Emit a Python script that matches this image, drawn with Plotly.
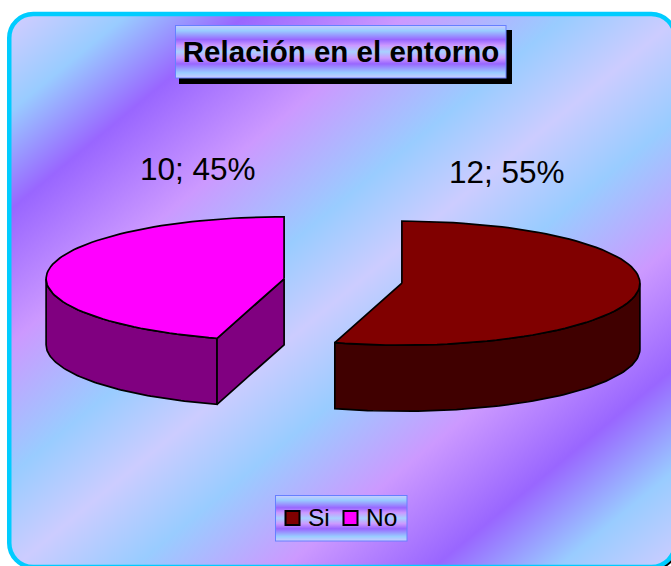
"""Relación en el entorno: exploded 3D-look pie drawn with Scatter traces."""

import base64

import numpy as np
import plotly.graph_objects as go

CATEGORIES = ["Si", "No"]
VALUES = [12, 10]
TOP_COLORS = ["#800000", "#FF00FF"]
WALL_COLORS = ["#400000", "#800080"]
TITLE = "Relación en el entorno"

W, H = 671, 566
CX, CY = 343, 281       # pie centre in pixels
RX, RY = 238, 62        # ellipse of the tilted disc
DEPTH = 66
EXPLODE = 0.25


def background_svg():
    stops = [(45, "#CCCCFF"), (145, "#99CCFF"), (264, "#9966FF"), (425, "#CC99FF"),
             (585, "#99CCFF"), (700, "#CCCCFF"), (820, "#99CCFF"), (970, "#CC99FF"),
             (1120, "#9966FF"), (1244, "#99CCFF"), (1356, "#CCCCFF")]
    k = 1.21
    span = 1400
    x2 = span / (1 + k ** 2)
    y2 = k * x2
    bg = "".join(f'<stop offset="{v / span:.4f}" stop-color="{c}"/>' for v, c in stops)
    bands = [(0, "#CCCCFF"), (0.1, "#99CCFF"), (0.27, "#9966FF"), (0.38, "#CC99FF"),
             (0.5, "#A8D0FF"), (0.62, "#CC99FF"), (0.73, "#9966FF"), (0.9, "#99CCFF"), (1, "#CCCCFF")]
    box = "".join(f'<stop offset="{o}" stop-color="{c}"/>' for o, c in bands)
    svg = f"""<svg xmlns="http://www.w3.org/2000/svg" width="{W}" height="{H}" viewBox="0 0 {W} {H}">
<defs>
<linearGradient id="bg" gradientUnits="userSpaceOnUse" x1="0" y1="0" x2="{x2:.1f}" y2="{y2:.1f}">{bg}</linearGradient>
<linearGradient id="box" x1="0" y1="0" x2="0" y2="1">{box}</linearGradient>
</defs>
<rect width="{W}" height="{H}" fill="#FFFFFF"/>
<rect x="12" y="17" width="666" height="553" rx="24" fill="#000000"/>
<rect x="9.25" y="14" width="666" height="553" rx="24" fill="url(#bg)" stroke="#00CCFF" stroke-width="4.5"/>
<rect x="179" y="30" width="333" height="54" fill="#000000"/>
<rect x="175.5" y="25.5" width="330.5" height="52.5" fill="url(#box)" stroke="#6680FF" stroke-width="1"/>
<rect x="275.5" y="495.5" width="131.5" height="45.5" fill="url(#box)" stroke="#6680FF" stroke-width="1"/>
</svg>"""
    return "data:image/svg+xml;base64," + base64.b64encode(svg.encode()).decode()


def arc(cx, cy, a0, a1):
    ang = np.radians(np.linspace(a0, a1, 80))
    return cx + RX * np.sin(ang), cy - RY * np.cos(ang)


def add_poly(fig, xs, ys, color):
    fig.add_trace(go.Scatter(x=np.append(xs, xs[0]), y=np.append(ys, ys[0]), mode="lines", fill="toself",
                             fillcolor=color, line=dict(color="black", width=1.7),
                             hoverinfo="skip", showlegend=False))


fig = go.Figure()

total = sum(VALUES)
a0 = 0.0
labels = []
for name, val, top, wall in zip(CATEGORIES, VALUES, TOP_COLORS, WALL_COLORS):
    a1 = a0 + 360 * val / total
    mid = np.radians((a0 + a1) / 2)
    px = CX + EXPLODE * RX * np.sin(mid)
    py = CY - EXPLODE * RY * np.cos(mid)

    # outer wall, only the part facing the viewer
    w0, w1 = max(a0, 90), min(a1, 270)
    xs, ys = arc(px, py, w0, w1)
    add_poly(fig, np.r_[xs, xs[::-1]], np.r_[ys, ys[::-1] + DEPTH], wall)

    # cut face visible on the right hand side of the No slice
    if name == "No":
        ex, ey = arc(px, py, a0, a0)
        add_poly(fig, np.array([px, ex[0], ex[0], px]), np.array([py, ey[0], ey[0] + DEPTH, py + DEPTH]), wall)

    xs, ys = arc(px, py, a0, a1)
    add_poly(fig, np.r_[px, xs], np.r_[py, ys], top)
    labels.append(f"{val}; {round(100 * val / total)}%")
    a0 = a1

# legend entries
for name, color, lx in zip(CATEGORIES, TOP_COLORS, [292.5, 350.5]):
    fig.add_trace(go.Scatter(x=[lx], y=[518], mode="markers",
                             marker=dict(symbol="square", size=14, color=color, line=dict(color="black", width=2)),
                             hoverinfo="skip", showlegend=False))
    fig.add_annotation(x=lx + 15, y=517, text=name, showarrow=False, xanchor="left",
                       font=dict(size=24.5, color="black"), borderpad=0, xshift=-1)

for text, lx, ly in zip(labels, [507, 198], [172, 169]):
    fig.add_annotation(x=lx, y=ly, text=text, showarrow=False, font=dict(size=31.5, color="black"))

fig.update_layout(
    width=W, height=H, autosize=False,
    margin=dict(l=0, r=0, t=0, b=0),
    paper_bgcolor="white", plot_bgcolor="rgba(0,0,0,0)",
    font=dict(family="Liberation Sans, Arial, sans-serif"),
    title=dict(text=f"<b>{TITLE}</b>", x=341 / W, y=1 - 52 / H, xanchor="center", yanchor="middle",
               font=dict(size=29.5, color="black")),
    xaxis=dict(range=[0, W], visible=False, fixedrange=True),
    yaxis=dict(range=[H, 0], visible=False, fixedrange=True),
    images=[dict(source=background_svg(), xref="x", yref="y", x=0, y=0, sizex=W, sizey=H,
                 xanchor="left", yanchor="top", sizing="stretch", layer="below")],
)

fig.write_html("out.html", config={"displayModeBar": False},
               post_script="document.body.style.margin='0';document.body.style.overflow='hidden';")
